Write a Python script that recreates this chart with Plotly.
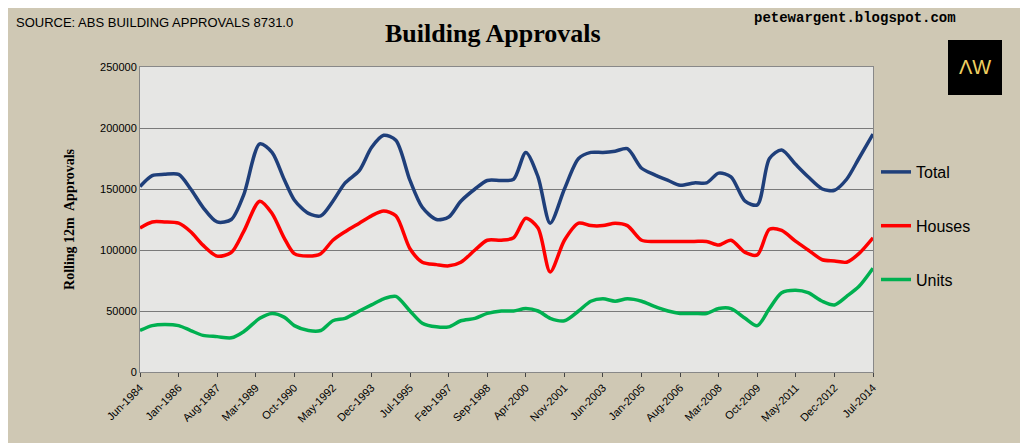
import plotly.graph_objects as go

dates = ["1984-06", "1984-12", "1985-06", "1986-01", "1986-07", "1987-01", "1987-08", "1988-03",
         "1988-09", "1989-05", "1989-11", "1990-05", "1990-10", "1991-05", "1991-11", "1992-05",
         "1992-11", "1993-06", "1993-12", "1994-06", "1994-12", "1995-07", "1996-01", "1996-08",
         "1997-02", "1997-08", "1998-03", "1998-09", "1999-04", "1999-10", "2000-04", "2000-10",
         "2001-04", "2001-11", "2002-06", "2002-12", "2003-06", "2003-12", "2004-06", "2005-01",
         "2005-07", "2006-02", "2006-08", "2007-03", "2007-09", "2008-03", "2008-09", "2009-04",
         "2009-10", "2010-04", "2010-10", "2011-05", "2011-11", "2012-06", "2012-12", "2013-06",
         "2013-12", "2014-07"]

total = [152, 161, 162, 162, 150, 135, 123, 125, 145, 187, 180, 158, 141, 130, 128, 140,
         155, 165, 184, 194, 190, 157, 135, 125, 127, 140, 150, 157, 157, 158, 180, 160,
         122, 150, 175, 180, 180, 181, 183, 167, 162, 157, 153, 155, 155, 163, 160, 140,
         137, 175, 182, 170, 160, 150, 149, 158, 175, 195]
houses = [118, 123, 123, 122, 115, 104, 95, 98, 115, 140, 130, 110, 97, 95, 97, 108,
          115, 122, 128, 132, 128, 101, 90, 88, 87, 90, 100, 108, 108, 110, 126, 118,
          82, 108, 122, 120, 120, 122, 120, 108, 107, 107, 107, 107, 107, 104, 108, 98,
          96, 117, 116, 107, 100, 92, 91, 90, 97, 110]
units = [34, 38, 39, 38, 34, 30, 29, 28, 33, 44, 48, 45, 38, 34, 34, 42,
         44, 50, 55, 60, 62, 50, 40, 37, 37, 42, 44, 48, 50, 50, 52, 50,
         44, 42, 50, 58, 60, 58, 60, 58, 54, 50, 48, 48, 48, 52, 52, 44,
         38, 52, 65, 67, 65, 58, 55, 62, 70, 85]

tick_dates = ["1984-06", "1986-01", "1987-08", "1989-03", "1990-10", "1992-05", "1993-12",
              "1995-07", "1997-02", "1998-09", "2000-04", "2001-11", "2003-06", "2005-01",
              "2006-08", "2008-03", "2009-10", "2011-05", "2012-12", "2014-07"]
tick_text = ["Jun-1984", "Jan-1986", "Aug-1987", "Mar-1989", "Oct-1990", "May-1992", "Dec-1993",
             "Jul-1995", "Feb-1997", "Sep-1998", "Apr-2000", "Nov-2001", "Jun-2003", "Jan-2005",
             "Aug-2006", "Mar-2008", "Oct-2009", "May-2011", "Dec-2012", "Jul-2014"]

series = [("Total", total, "#1f3f7a"), ("Houses", houses, "#ff0000"), ("Units", units, "#00b050")]

W, H = 1028, 443
L, R, T, B = 132, 163, 59, 79
OFF = 8  # page offset of the plot area
pw, ph = W - L - R, H - T - B


def px(x):
    return (x - OFF - L) / pw


def py(y):
    return (H - (y - OFF) - B) / ph


fig = go.Figure()
for name, vals, col in series:
    fig.add_trace(go.Scatter(
        x=dates, y=[v * 1000 for v in vals], name=name, mode="lines",
        line=dict(color=col, width=3.5, shape="spline", smoothing=0.8),
        legendgroup=name,
    ))

fig.update_layout(
    width=W, height=H,
    margin=dict(l=L, r=R, t=T, b=B),
    paper_bgcolor="#cfc8b4",
    plot_bgcolor="#e6e6e4",
    showlegend=True,
    legend=dict(x=px(876), y=py(155), xanchor="left", yanchor="top", tracegroupgap=30,
                font=dict(family="Arial", size=16, color="black"), bgcolor="rgba(0,0,0,0)"),
    xaxis=dict(range=["1984-06", "2014-07"], tickvals=tick_dates, ticktext=tick_text,
               tickangle=-45, tickfont=dict(family="Arial", size=11, color="black"),
               showgrid=False, showline=True, linecolor="#888", mirror=True,
               ticks="outside", ticklen=4),
    yaxis=dict(range=[0, 250000], dtick=50000, tickformat="d",
               tickfont=dict(family="Arial", size=11, color="black"),
               gridcolor="#7a7a7a", showline=True, linecolor="#888", mirror=True,
               title=dict(text="<b>Rolling 12m  Approvals</b>", standoff=22,
                          font=dict(family="Times New Roman, Liberation Serif", size=14, color="black"))),
    annotations=[
        dict(text="SOURCE: ABS BUILDING APPROVALS 8731.0", x=px(14), y=py(22),
             xanchor="left", yanchor="middle",
             font=dict(family="Arial", size=13, color="black")),
        dict(text="<b>Building Approvals</b>", x=px(493), y=py(33), xanchor="center", yanchor="middle",
             font=dict(family="Times New Roman, Liberation Serif", size=26, color="black")),
        dict(text="<b>petewargent.blogspot.com</b>", x=px(855), y=py(18), xanchor="center", yanchor="middle",
             font=dict(family="Liberation Mono", size=14, color="black")),
        dict(text="ΛW", x=px(975), y=py(67), xanchor="center", yanchor="middle",
             font=dict(family="Arial", size=20, color="#f0d060")),
    ],
)
for a in fig.layout.annotations:
    a.xref = "paper"
    a.yref = "paper"
    a.showarrow = False

fig.add_shape(type="rect", xref="paper", yref="paper",
              x0=px(948), x1=px(1002), y0=py(95), y1=py(40),
              fillcolor="black", line=dict(width=0), layer="below")

fig.write_html("out.html")
